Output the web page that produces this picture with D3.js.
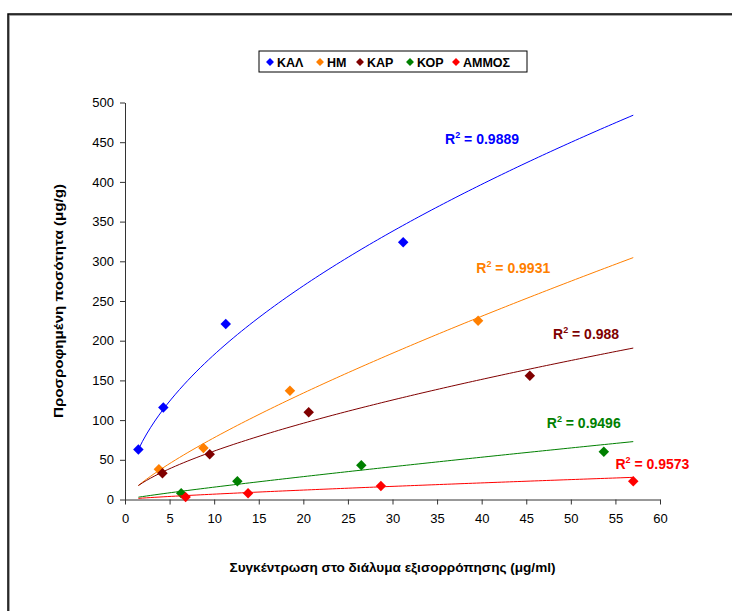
<!DOCTYPE html>
<html>
<head>
<meta charset="utf-8">
<script src="https://cdn.jsdelivr.net/npm/d3@7"></script>
<style>
  body { margin: 0; background: #fff; }
  svg { font-family: "Liberation Sans", Arial, sans-serif; }
</style>
</head>
<body>
<div id="chart"></div>
<script>
// series
const seriesNames = ["ΚΑΛ", "ΗΜ", "ΚΑΡ", "ΚΟΡ", "ΑΜΜΟΣ"];
const seriesColors = ["#0000ff", "#ff7f00", "#800000", "#008000", "#ff0000"];

const kalX = [1.5, 4.3, 11.3, 31.2];
const kalY = [63, 116, 221, 324];
const hmX = [3.8, 8.8, 18.5, 39.6];
const hmY = [38, 65, 137, 225];
const karX = [4.2, 9.5, 20.6, 45.4];
const karY = [33, 57, 110, 156];
const korX = [6.3, 12.6, 26.5, 53.7];
const korY = [8, 23, 43, 60];
const ammosX = [6.8, 13.8, 28.7, 57.0];
const ammosY = [3, 8, 17, 23];

// power trendlines y = a * x^b, coefficients
const trendA = [50.2, 12.8, 13.5, 2.02, 1.03];
const trendB = [0.5605, 0.784, 0.655, 0.887, 0.816];
const trendRange = [1.5, 57];
const rSquared = ["0.9889", "0.9931", "0.988", "0.9496", "0.9573"];
// where each R² label sits (data coords: x of label start, y of baseline)
const labelX = [35.9, 39.4, 48, 47.3, 55];
const labelY = [448, 285, 202, 90, 38];

const xTicks = d3.range(0, 61, 5);
const yTicks = d3.range(0, 501, 50);

const width = 732, height = 611;

const svg = d3.select("#chart").append("svg")
  .attr("width", width)
  .attr("height", height);

// outer frame
svg.append("rect")
  .attr("x", 9).attr("y", 15)
  .attr("width", 740).attr("height", 620)
  .attr("fill", "none").attr("stroke", "#888").attr("stroke-width", 1.5);
svg.append("rect")
  .attr("x", 8).attr("y", 14)
  .attr("width", 740).attr("height", 620)
  .attr("fill", "none").attr("stroke", "#000").attr("stroke-width", 1.5);

const x = d3.scaleLinear().domain([0, 60]).range([125, 660]);
const y = d3.scaleLinear().domain([0, 500]).range([499.5, 102.5]);

const xAxis = svg.append("g")
  .attr("transform", `translate(0, ${y(0)})`)
  .call(d3.axisBottom(x).tickValues(xTicks).tickSize(5).tickSizeOuter(0));
const yAxis = svg.append("g")
  .attr("transform", `translate(${x(0)}, 0)`)
  .call(d3.axisLeft(y).tickValues(yTicks).tickSize(5).tickSizeOuter(0));

[xAxis, yAxis].forEach((g) => {
  g.selectAll("path, line").attr("stroke", "#333").attr("stroke-width", 1);
  g.selectAll("text")
    .attr("fill", "#000")
    .style("font-size", "13px")
    .style("font-family", "'Liberation Sans', Arial, sans-serif");
});
xAxis.selectAll("text").attr("dy", "0.95em").attr("y", 11);
yAxis.selectAll("text").attr("x", -11);

// axis titles
svg.append("text")
  .attr("x", (x(0) + x(60)) / 2)
  .attr("y", 572)
  .attr("text-anchor", "middle")
  .attr("textLength", 326)
  .attr("lengthAdjust", "spacingAndGlyphs")
  .style("font-size", "13px")
  .style("font-weight", "bold")
  .text("Συγκέντρωση στο διάλυμα εξισορρόπησης (μg/ml)");

svg.append("text")
  .attr("transform", `translate(63, ${(y(0) + y(500)) / 2}) rotate(-90)`)
  .attr("text-anchor", "middle")
  .attr("textLength", 234)
  .attr("lengthAdjust", "spacingAndGlyphs")
  .style("font-size", "13px")
  .style("font-weight", "bold")
  .text("Προσροφημένη ποσότητα (μg/g)");

const allX = [kalX, hmX, karX, korX, ammosX];
const allY = [kalY, hmY, karY, korY, ammosY];

const line = d3.line().x((d) => x(d[0])).y((d) => y(d[1]));
const diamond = d3.symbol().type(d3.symbolDiamond2);

seriesNames.forEach((name, i) => {
  const steps = d3.range(0, 121).map((k) => trendRange[0] + (trendRange[1] - trendRange[0]) * k / 120);
  const pts = steps.map((xv) => [xv, trendA[i] * Math.pow(xv, trendB[i])]);
  svg.append("path")
    .datum(pts)
    .attr("d", line)
    .attr("fill", "none")
    .attr("stroke", seriesColors[i])
    .attr("stroke-width", 1);

  svg.append("g").selectAll("path")
    .data(allX[i].map((xv, j) => [xv, allY[i][j]]))
    .join("path")
    .attr("transform", (d) => `translate(${x(d[0])}, ${y(d[1])})`)
    .attr("d", diamond.size(70))
    .attr("fill", seriesColors[i]);

  const lbl = svg.append("text")
    .attr("x", x(labelX[i]))
    .attr("y", y(labelY[i]))
    .attr("fill", seriesColors[i])
    .style("font-size", "14px")
    .style("font-weight", "bold");
  lbl.append("tspan").text("R");
  lbl.append("tspan").attr("dy", -6).style("font-size", "9px").text("2");
  lbl.append("tspan").attr("dy", 6).text(" = " + rSquared[i]);
});

// legend
const legend = svg.append("g").attr("transform", "translate(259, 51)");
legend.append("rect")
  .attr("width", 268).attr("height", 21)
  .attr("fill", "#fff").attr("stroke", "#000").attr("stroke-width", 1);
const legendOffsets = [11, 61, 101, 151, 197];
seriesNames.forEach((name, i) => {
  const item = legend.append("g").attr("transform", `translate(${legendOffsets[i]}, 11)`);
  item.append("path")
    .attr("d", diamond.size(40))
    .attr("fill", seriesColors[i]);
  item.append("text")
    .attr("x", 7)
    .attr("y", 4.5)
    .style("font-size", "12.5px")
    .style("font-weight", "bold")
    .text(name);
});
</script>
</body>
</html>
